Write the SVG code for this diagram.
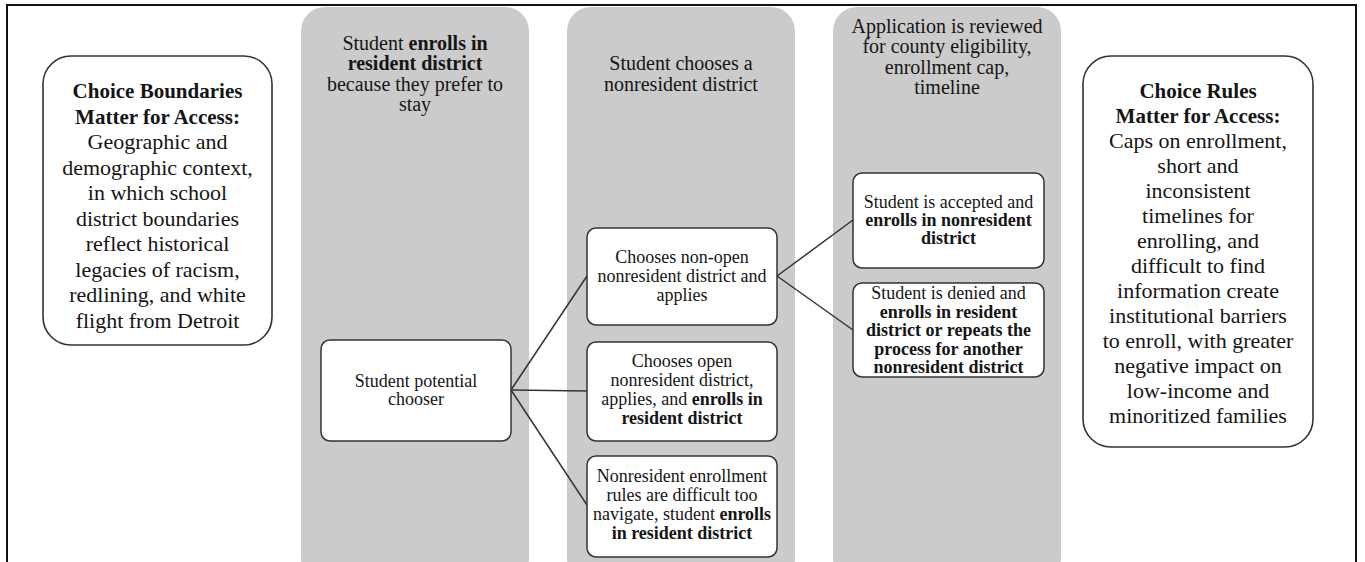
<svg xmlns="http://www.w3.org/2000/svg" width="1365" height="562" viewBox="0 0 1365 562">
<style>
.frame{fill:none;stroke:#111;stroke-width:2}
.panel{fill:#cbcbcb}
.side{fill:#fff;stroke:#333;stroke-width:1.6}
.box{fill:#fff;stroke:#333;stroke-width:1.5}
.conn{stroke:#333;stroke-width:1.5;fill:none}
text{font-family:"Liberation Serif","Times New Roman",serif;fill:#151515;text-anchor:middle}
.hd{font-size:20px}
.sd{font-size:22px}
.sb{font-size:21px;font-weight:bold}
.bx{font-size:18px}
.b{font-weight:bold}
</style>
<rect width="1365" height="562" fill="#fff"/>
<path class="frame" d="M7,562 V5 H1356 V562"/>
<g id="panel-resident">
<rect class="panel" x="301" y="7" width="228" height="575" rx="24"/>
<text class="hd"><tspan x="415" y="50">Student <tspan class="b">enrolls in</tspan></tspan><tspan x="415" y="70.3" class="b">resident district</tspan><tspan x="415" y="90.6">because they prefer to</tspan><tspan x="415" y="110.9">stay</tspan></text>
</g>
<g id="panel-nonresident">
<rect class="panel" x="567" y="7" width="228" height="575" rx="24"/>
<text class="hd"><tspan x="681" y="70.3">Student chooses a</tspan><tspan x="681" y="90.6">nonresident district</tspan></text>
</g>
<g id="panel-review">
<rect class="panel" x="833" y="7" width="228" height="575" rx="24"/>
<text class="hd"><tspan x="947" y="33">Application is reviewed</tspan><tspan x="947" y="53.3">for county eligibility,</tspan><tspan x="947" y="73.6">enrollment cap,</tspan><tspan x="947" y="93.9">timeline</tspan></text>
</g>
<g id="boundaries">
<rect class="side" x="43" y="56" width="229" height="289" rx="28"/>
<text class="sd"><tspan x="157.5" y="98" class="sb">Choice Boundaries</tspan><tspan x="157.5" y="123.5" class="sb">Matter for Access:</tspan><tspan x="157.5" y="149">Geographic and</tspan><tspan x="157.5" y="174.5">demographic context,</tspan><tspan x="157.5" y="200">in which school</tspan><tspan x="157.5" y="225.5">district boundaries</tspan><tspan x="157.5" y="251">reflect historical</tspan><tspan x="157.5" y="276.5">legacies of racism,</tspan><tspan x="157.5" y="302">redlining, and white</tspan><tspan x="157.5" y="327.5">flight from Detroit</tspan></text>
</g>
<g id="rules">
<rect class="side" x="1083" y="56" width="230" height="391" rx="28"/>
<text class="sd"><tspan x="1198" y="98" class="sb">Choice Rules</tspan><tspan x="1198" y="123" class="sb">Matter for Access:</tspan><tspan x="1198" y="148">Caps on enrollment,</tspan><tspan x="1198" y="173">short and</tspan><tspan x="1198" y="198">inconsistent</tspan><tspan x="1198" y="223">timelines for</tspan><tspan x="1198" y="248">enrolling, and</tspan><tspan x="1198" y="273">difficult to find</tspan><tspan x="1198" y="298">information create</tspan><tspan x="1198" y="323">institutional barriers</tspan><tspan x="1198" y="348">to enroll, with greater</tspan><tspan x="1198" y="373">negative impact on</tspan><tspan x="1198" y="398">low-income and</tspan><tspan x="1198" y="423">minoritized families</tspan></text>
</g>
<g id="connectors">
<line class="conn" x1="511" y1="390" x2="587" y2="276"/>
<line class="conn" x1="511" y1="390" x2="587" y2="391"/>
<line class="conn" x1="511" y1="390" x2="587" y2="505"/>
<line class="conn" x1="777" y1="276" x2="853" y2="220"/>
<line class="conn" x1="777" y1="276" x2="853" y2="330"/>
</g>
<g id="chooser">
<rect class="box" x="321" y="340" width="190" height="101" rx="9"/>
<text class="bx"><tspan x="416" y="387">Student potential</tspan><tspan x="416" y="405">chooser</tspan></text>
</g>
<g id="non-open">
<rect class="box" x="587" y="228" width="190" height="97" rx="9"/>
<text class="bx"><tspan x="682" y="263">Chooses non-open</tspan><tspan x="682" y="282">nonresident district and</tspan><tspan x="682" y="301">applies</tspan></text>
</g>
<g id="open">
<rect class="box" x="587" y="342" width="190" height="99" rx="9"/>
<text class="bx"><tspan x="682" y="366.5">Chooses open</tspan><tspan x="682" y="385.5">nonresident district,</tspan><tspan x="682" y="404.5">applies, and <tspan class="b">enrolls in</tspan></tspan><tspan x="682" y="423.5" class="b">resident district</tspan></text>
</g>
<g id="difficult">
<rect class="box" x="587" y="456" width="190" height="101" rx="9"/>
<text class="bx"><tspan x="682" y="482">Nonresident enrollment</tspan><tspan x="682" y="501">rules are difficult too</tspan><tspan x="682" y="520">navigate, student <tspan class="b">enrolls</tspan></tspan><tspan x="682" y="539" class="b">in resident district</tspan></text>
</g>
<g id="accepted">
<rect class="box" x="853" y="173" width="191" height="95" rx="9"/>
<text class="bx"><tspan x="948.5" y="208">Student is accepted and</tspan><tspan x="948.5" y="226" class="b">enrolls in nonresident</tspan><tspan x="948.5" y="244" class="b">district</tspan></text>
</g>
<g id="denied">
<rect class="box" x="853" y="283" width="191" height="94" rx="9"/>
<text class="bx"><tspan x="948.5" y="299">Student is denied and</tspan><tspan x="948.5" y="317.5" class="b">enrolls in resident</tspan><tspan x="948.5" y="336" class="b">district or repeats the</tspan><tspan x="948.5" y="354.5" class="b">process for another</tspan><tspan x="948.5" y="373" class="b">nonresident district</tspan></text>
</g>
</svg>
